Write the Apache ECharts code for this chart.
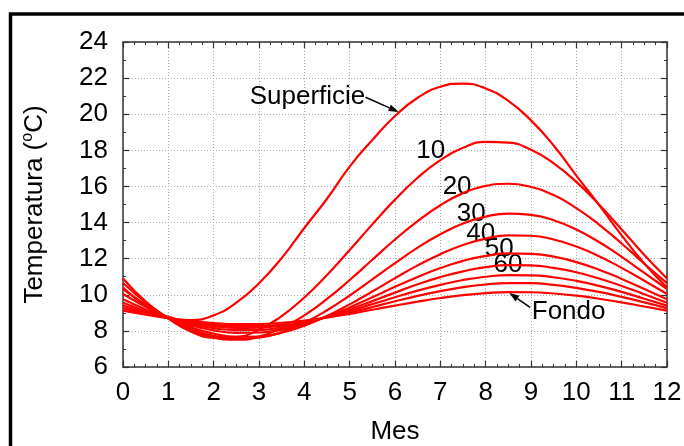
<!DOCTYPE html>
<html>
<head>
<meta charset="utf-8">
<script src="https://cdn.jsdelivr.net/npm/echarts@6/dist/echarts.min.js"></script>
<style>
html, body { margin: 0; padding: 0; background: #fff; }
#main { width: 684px; height: 446px; }
</style>
</head>
<body>
<div id="main"></div>
<script>
// meses (cada medio mes) y temperaturas (oC)
var meses = [0, 0.5, 1, 1.5, 2, 2.5, 3, 3.5, 4, 4.5, 5, 5.5, 6, 6.5, 7, 7.5, 8, 8.5, 9, 9.5, 10, 10.5, 11, 11.5, 12];
var superficie = [10.4, 9.39, 8.78, 8.6, 8.86, 9.56, 10.64, 12.03, 13.7, 15.32, 17.1, 18.57, 19.9, 20.91, 21.52, 21.7, 21.43, 20.74, 19.66, 18.27, 16.6, 14.98, 13.29, 11.73, 10.4];
var prof10 = [10.9, 9.62, 8.68, 7.96, 7.63, 7.67, 8.07, 8.82, 9.85, 11.1, 12.48, 13.9, 15.27, 16.48, 17.46, 18.14, 18.47, 18.43, 18.03, 17.28, 16.25, 15.0, 13.62, 12.2, 10.9];
var prof20 = [10.65, 9.58, 8.7, 8.03, 7.63, 7.51, 7.68, 8.15, 8.86, 9.77, 10.82, 11.94, 13.06, 14.08, 14.96, 15.63, 16.03, 16.15, 15.97, 15.52, 14.8, 13.89, 12.84, 11.72, 10.65];
var prof30 = [10.32, 9.45, 8.71, 8.11, 7.73, 7.56, 7.63, 7.93, 8.45, 9.14, 9.96, 10.85, 11.75, 12.61, 13.35, 13.95, 14.33, 14.5, 14.43, 14.13, 13.61, 12.92, 12.1, 11.21, 10.32];
var prof40 = [10.04, 9.33, 8.71, 8.2, 7.85, 7.67, 7.69, 7.9, 8.29, 8.82, 9.47, 10.18, 10.92, 11.63, 12.25, 12.76, 13.11, 13.29, 13.27, 13.06, 12.67, 12.14, 11.49, 10.78, 10.04];
var prof50 = [9.75, 9.19, 8.7, 8.3, 8.03, 7.89, 7.91, 8.07, 8.37, 8.79, 9.3, 9.86, 10.44, 10.99, 11.48, 11.88, 12.15, 12.29, 12.27, 12.11, 11.81, 11.39, 10.88, 10.32, 9.75];
var prof60 = [9.56, 9.1, 8.7, 8.38, 8.15, 8.04, 8.05, 8.19, 8.43, 8.78, 9.19, 9.65, 10.12, 10.58, 10.98, 11.3, 11.53, 11.64, 11.63, 11.49, 11.25, 10.9, 10.49, 10.03, 9.56];
var prof70 = [9.4, 9.03, 8.71, 8.44, 8.26, 8.17, 8.18, 8.29, 8.49, 8.77, 9.1, 9.48, 9.86, 10.23, 10.55, 10.82, 11.0, 11.09, 11.08, 10.97, 10.77, 10.49, 10.16, 9.78, 9.4];
var prof80 = [9.26, 8.96, 8.7, 8.48, 8.33, 8.26, 8.26, 8.35, 8.52, 8.74, 9.02, 9.32, 9.64, 9.94, 10.2, 10.42, 10.57, 10.64, 10.64, 10.55, 10.38, 10.16, 9.88, 9.58, 9.26];
var fondo = [9.12, 8.9, 8.7, 8.54, 8.43, 8.37, 8.38, 8.45, 8.57, 8.74, 8.94, 9.17, 9.4, 9.62, 9.82, 9.98, 10.09, 10.15, 10.14, 10.07, 9.95, 9.78, 9.58, 9.35, 9.12];

var nombres = ['Superficie', '10', '20', '30', '40', '50', '60', '70', '80', 'Fondo'];
var curvas = [superficie, prof10, prof20, prof30, prof40, prof50, prof60, prof70, prof80, fondo];

var fuente = 'Liberation Sans, Arial, Helvetica, sans-serif';
var ejeColor = '#333';
var tam = 26;

var myChart = echarts.init(document.getElementById('main'));

var series = curvas.map(function (vals, i) {
    return {
        name: nombres[i],
        type: 'line',
        smooth: true,
        showSymbol: false,
        silent: true,
        data: meses.map(function (m, k) { return [m, vals[k]]; }),
        lineStyle: { color: '#ff0000', width: 2.2 }
    };
});

function ejeX(pos, principal) {
    return {
        type: 'value', position: pos, min: 0, max: 12, interval: 1,
        axisLine: { show: true, onZero: false, lineStyle: { color: ejeColor, width: 1.5 } },
        axisTick: { show: true, inside: true, length: 6, lineStyle: { color: ejeColor, width: 1.2 } },
        minorTick: { show: true, splitNumber: 4, length: 3, lineStyle: { color: ejeColor, width: 1 } },
        axisLabel: { show: principal, fontSize: tam, color: '#000', margin: 13, fontFamily: fuente },
        splitLine: { show: principal, lineStyle: { type: [1, 2], color: '#aaa', width: 1 } },
        name: principal ? 'Mes' : '',
        nameLocation: 'middle', nameGap: 52,
        nameTextStyle: { fontSize: tam, color: '#000', fontFamily: fuente }
    };
}

function ejeY(pos, principal) {
    return {
        type: 'value', position: pos, min: 6, max: 24, interval: 2,
        axisLine: { show: true, onZero: false, lineStyle: { color: ejeColor, width: 1.5 } },
        axisTick: { show: true, inside: true, length: 6, lineStyle: { color: ejeColor, width: 1.2 } },
        minorTick: { show: true, splitNumber: 2, length: 3, lineStyle: { color: ejeColor, width: 1 } },
        axisLabel: { show: principal, fontSize: tam, color: '#000', margin: 15, fontFamily: fuente },
        splitLine: { show: principal, lineStyle: { type: [1, 2], color: '#aaa', width: 1 } },
        name: principal ? 'Temperatura ({sup|o}C)' : '',
        nameLocation: 'middle', nameGap: 74, nameRotate: 90,
        nameTextStyle: {
            fontSize: tam, color: '#000', fontFamily: fuente,
            rich: { sup: { fontSize: 16, color: '#000', fontFamily: fuente, padding: [0, 0, 13, 0] } }
        }
    };
}

var option = {
    animation: false,
    backgroundColor: '#fff',
    grid: { left: 123, right: 17, top: 42, bottom: 79, outerBoundsMode: 'none' },
    xAxis: [ejeX('bottom', true), ejeX('top', false)],
    yAxis: [ejeY('left', true), ejeY('right', false)],
    series: series
};
myChart.setOption(option);

// rotulos y flechas, en coordenadas de datos
var rotulos = [
    ['Superficie', 4.07, 20.95],
    ['10', 6.79, 17.97],
    ['20', 7.37, 16.0],
    ['30', 7.68, 14.5],
    ['40', 7.89, 13.36],
    ['50', 8.3, 12.53],
    ['60', 8.49, 11.64],
    ['Fondo', 9.83, 9.06]
];
var flechas = [
    [[5.35, 20.94], [6.08, 20.13]],
    [[8.98, 9.3], [8.52, 10.11]]
];

function px(p) { return myChart.convertToPixel({ gridIndex: 0 }, p); }

var graficos = [{
    type: 'rect', silent: true,
    shape: { x: 10.5, y: 14, width: 720, height: 480 },
    style: { fill: 'none', stroke: '#000', lineWidth: 3.5 }
}];

rotulos.forEach(function (r) {
    var p = px([r[1], r[2]]);
    graficos.push({
        type: 'text', silent: true, x: p[0], y: p[1],
        style: { text: r[0], fontSize: tam, fontFamily: fuente, fill: '#000', align: 'center', verticalAlign: 'middle' }
    });
});

flechas.forEach(function (f) {
    var a = px(f[0]), b = px(f[1]);
    var ang = Math.atan2(b[1] - a[1], b[0] - a[0]);
    var L = 10, W = 3.5;
    var bx = b[0] - L * Math.cos(ang), by = b[1] - L * Math.sin(ang);
    graficos.push({
        type: 'line', silent: true,
        shape: { x1: a[0], y1: a[1], x2: bx, y2: by },
        style: { stroke: '#000', lineWidth: 1.5 }
    });
    graficos.push({
        type: 'polygon', silent: true,
        shape: { points: [
            [b[0], b[1]],
            [bx + W * Math.sin(ang), by - W * Math.cos(ang)],
            [bx - W * Math.sin(ang), by + W * Math.cos(ang)]
        ] },
        style: { fill: '#000' }
    });
});

myChart.setOption({ graphic: graficos });
</script>
</body>
</html>
